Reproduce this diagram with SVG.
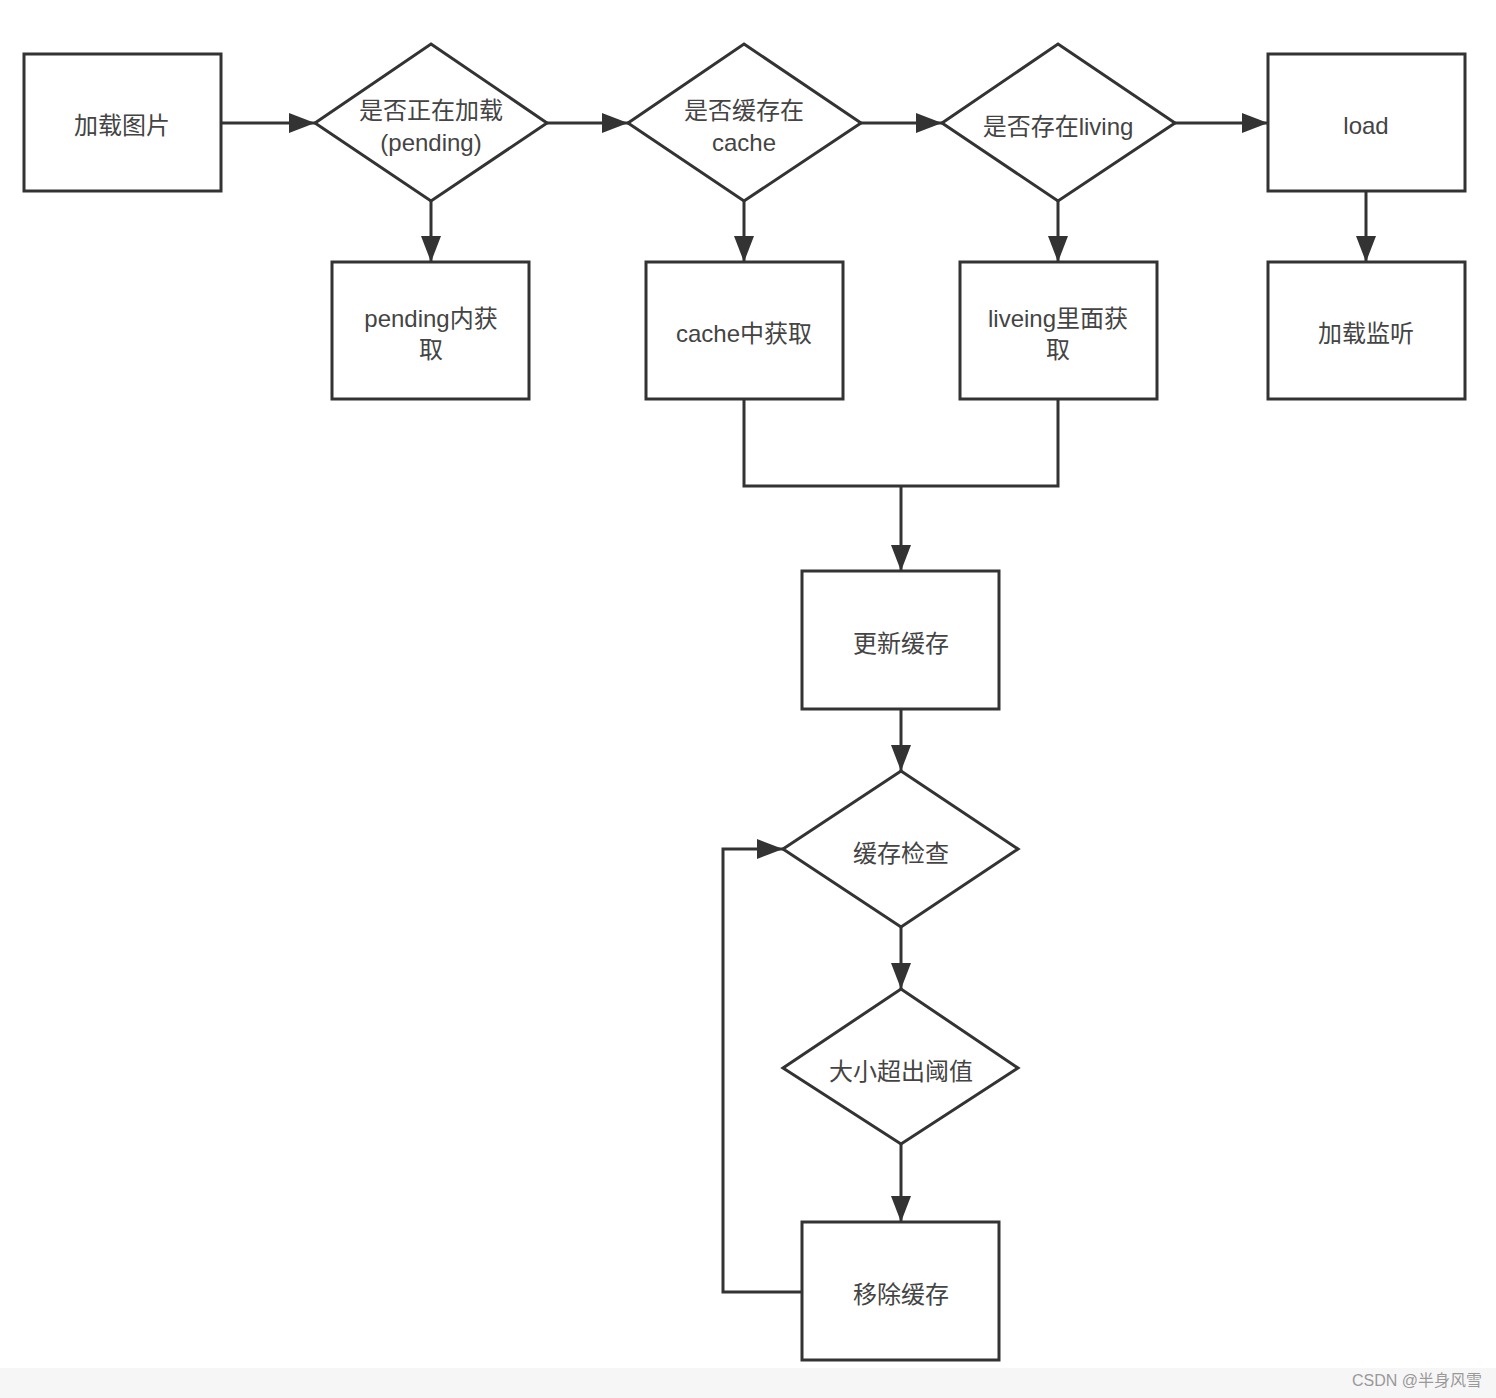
<svg xmlns="http://www.w3.org/2000/svg" width="1496" height="1398" viewBox="0 0 1496 1398">
<defs>
<marker id="arr" viewBox="0 0 26 20" refX="26" refY="10" markerWidth="26" markerHeight="20" markerUnits="userSpaceOnUse" orient="auto">
<path d="M0,0 L26,10 L0,20 Z" fill="#333"/>
</marker>
<style>
.n{fill:#fff;stroke:#333;stroke-width:3}
.t{font-family:"Liberation Sans","Noto Sans CJK SC",sans-serif;font-size:24px;fill:#444;text-anchor:middle}
.c{fill:none;stroke:#333;stroke-width:3}
</style>
</defs>
<rect width="1496" height="1398" fill="#fff"/>
<rect x="0" y="1368" width="1496" height="30" fill="#f6f6f6"/>
<g id="connectors">
<line class="c" x1="221" y1="123" x2="315" y2="123" marker-end="url(#arr)"/>
<line class="c" x1="547" y1="123" x2="628" y2="123" marker-end="url(#arr)"/>
<line class="c" x1="861" y1="123" x2="942" y2="123" marker-end="url(#arr)"/>
<line class="c" x1="1175" y1="123" x2="1268" y2="123" marker-end="url(#arr)"/>
<line class="c" x1="431" y1="201" x2="431" y2="262" marker-end="url(#arr)"/>
<line class="c" x1="744" y1="201" x2="744" y2="262" marker-end="url(#arr)"/>
<line class="c" x1="1058" y1="201" x2="1058" y2="262" marker-end="url(#arr)"/>
<line class="c" x1="1366" y1="191" x2="1366" y2="262" marker-end="url(#arr)"/>
<polyline class="c" points="744,399 744,486 1058,486 1058,399"/>
<line class="c" x1="901" y1="486" x2="901" y2="571" marker-end="url(#arr)"/>
<line class="c" x1="901" y1="709" x2="901" y2="771" marker-end="url(#arr)"/>
<line class="c" x1="901" y1="927" x2="901" y2="989" marker-end="url(#arr)"/>
<line class="c" x1="901" y1="1144" x2="901" y2="1222" marker-end="url(#arr)"/>
<polyline class="c" points="802,1292 723,1292 723,849 783,849" marker-end="url(#arr)"/>
</g>
<g id="n1"><rect class="n" x="24" y="54" width="197" height="137"/><text class="t" x="122" y="134">加载图片</text></g>
<g id="n2"><polygon class="n" points="431,44 547,123 431,201 315,123"/><text class="t" x="431" y="119">是否正在加载</text><text class="t" x="431" y="151">(pending)</text></g>
<g id="n3"><polygon class="n" points="744,44 861,123 744,201 628,123"/><text class="t" x="744" y="119">是否缓存在</text><text class="t" x="744" y="151">cache</text></g>
<g id="n4"><polygon class="n" points="1058,44 1175,123 1058,201 942,123"/><text class="t" x="1058" y="135">是否存在living</text></g>
<g id="n5"><rect class="n" x="1268" y="54" width="197" height="137"/><text class="t" x="1366" y="134">load</text></g>
<g id="n6"><rect class="n" x="332" y="262" width="197" height="137"/><text class="t" x="431" y="327">pending内获</text><text class="t" x="431" y="358">取</text></g>
<g id="n7"><rect class="n" x="646" y="262" width="197" height="137"/><text class="t" x="744" y="342">cache中获取</text></g>
<g id="n8"><rect class="n" x="960" y="262" width="197" height="137"/><text class="t" x="1058" y="327">liveing里面获</text><text class="t" x="1058" y="358">取</text></g>
<g id="n9"><rect class="n" x="1268" y="262" width="197" height="137"/><text class="t" x="1366" y="342">加载监听</text></g>
<g id="n10"><rect class="n" x="802" y="571" width="197" height="138"/><text class="t" x="901" y="652">更新缓存</text></g>
<g id="n11"><polygon class="n" points="901,771 1018,849 901,927 783,849"/><text class="t" x="901" y="862">缓存检查</text></g>
<g id="n12"><polygon class="n" points="901,989 1018,1068 901,1144 783,1068"/><text class="t" x="901" y="1080">大小超出阈值</text></g>
<g id="n13"><rect class="n" x="802" y="1222" width="197" height="138"/><text class="t" x="901" y="1303">移除缓存</text></g>
<text x="1482" y="1386" font-family="Liberation Sans, Noto Sans CJK SC, sans-serif" font-size="16" fill="#999" text-anchor="end">CSDN @半身风雪</text>
</svg>
